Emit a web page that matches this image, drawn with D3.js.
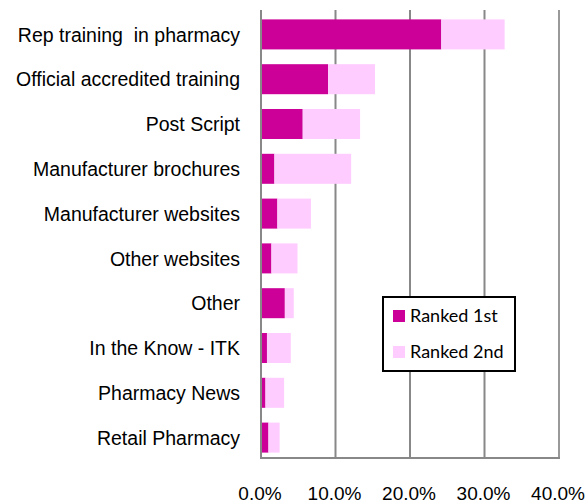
<!DOCTYPE html>
<html><head><meta charset="utf-8">
<script src="https://cdn.jsdelivr.net/npm/d3@7"></script>
<style>html,body{margin:0;padding:0;background:#fff;}</style>
</head><body>
<script>
const categories = ["Rep training  in pharmacy","Official accredited training","Post Script","Manufacturer brochures","Manufacturer websites","Other websites","Other","In the Know - ITK","Pharmacy News","Retail Pharmacy"];
const ranked1st = [24.2, 9.0, 5.6, 1.8, 2.2, 1.4, 3.2, 0.8, 0.6, 1.0];
const ranked2nd = [8.5, 6.3, 7.7, 10.3, 4.5, 3.5, 1.2, 3.2, 2.5, 1.5];
const seriesNames = ["Ranked 1st", "Ranked 2nd"];
const tickValues = [0, 10, 20, 30, 40];
const colors = ["#CC0099", "#FFCCFF"];

(function(){
const W = 585, H = 503;
const svg = d3.select("body").append("svg").attr("width", W).attr("height", H);
const x = d3.scaleLinear().domain([0, 40]).range([261, 559]);
const y = d3.scaleBand().domain(categories).range([12, 460]).paddingInner(0.33).paddingOuter(0.165);
const plotTop = 10, plotBottom = 458;

// gridlines
svg.append("g").selectAll("line").data(tickValues).join("line")
  .attr("x1", d => x(d)).attr("x2", d => x(d))
  .attr("y1", plotTop).attr("y2", plotBottom)
  .attr("stroke", (d,i) => i === tickValues.length-1 ? "#999" : "#888").attr("stroke-width", 2);
// bottom axis line
svg.append("line").attr("x1", x(0)-1).attr("x2", x(40)+1).attr("y1", plotBottom).attr("y2", plotBottom)
  .attr("stroke", "#888").attr("stroke-width", 2);

// bars
const stackData = categories.map((c,i) => ({cat: c, a: ranked1st[i], b: ranked2nd[i]}));
const g = svg.append("g");
g.selectAll("rect.s1").data(stackData).join("rect").attr("class","s1")
  .attr("x", x(0)+1).attr("y", d => y(d.cat)).attr("height", y.bandwidth())
  .attr("width", d => x(d.a) - x(0) - 1).attr("fill", colors[0]);
g.selectAll("rect.s2").data(stackData).join("rect").attr("class","s2")
  .attr("x", d => x(d.a)).attr("y", d => y(d.cat)).attr("height", y.bandwidth())
  .attr("width", d => x(d.a + d.b) - x(d.a)).attr("fill", colors[1]);

// category labels
svg.append("g").selectAll("text").data(categories).join("text")
  .attr("x", 240).attr("y", d => y(d) + y.bandwidth()/2).attr("dy", "0.37em")
  .attr("text-anchor", "end").attr("font-family", "Liberation Sans, Arial, sans-serif")
  .attr("font-size", 19.5).attr("fill", "#000").style("white-space","pre").text(d => d);

// tick labels
svg.append("g").selectAll("text").data(tickValues).join("text")
  .attr("x", d => x(d) - 1).attr("y", 500).attr("text-anchor", "middle")
  .attr("font-family", "Liberation Sans, Arial, sans-serif").attr("font-size", 19)
  .text(d => d3.format(".1f")(d) + "%");

// legend
const lg = svg.append("g");
lg.append("rect").attr("x", 383).attr("y", 297).attr("width", 132).attr("height", 74)
  .attr("fill", "#fff").attr("stroke", "#000").attr("stroke-width", 2);
seriesNames.forEach((n, i) => {
  const cy = 316 + i*36;
  lg.append("rect").attr("x", 393).attr("y", cy-6).attr("width", 12).attr("height", 12).attr("fill", colors[i]);
  lg.append("text").attr("x", 410).attr("y", cy + 6).attr("font-family", "Lato, Carlito, sans-serif")
    .attr("font-size", 18).text(n);
});
})();
</script>
</body></html>
